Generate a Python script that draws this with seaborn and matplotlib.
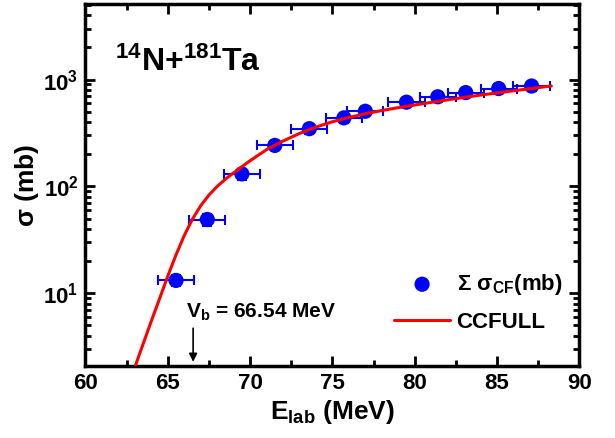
import numpy as np
import pandas as pd
import matplotlib
matplotlib.use("Agg")
import matplotlib.pyplot as plt
import seaborn as sns
from matplotlib.ticker import MultipleLocator, LogLocator, NullFormatter

# Data
e_exp = [65.5, 67.4, 69.5, 71.5, 73.6, 75.7, 77.0, 79.5, 81.4, 83.1, 85.1, 87.1]
sigma_exp = [13.2, 49, 131, 242, 347, 438, 505, 614, 690, 755, 824, 870]
xerr = [1.1, 1.1, 1.1, 1.1, 1.1, 1.1, 1.1, 1.1, 1.1, 1.1, 1.1, 1.1]
yerr = [1.6, 6, 15, 25, 35, 44, 50, 60, 68, 74, 80, 85]

e_calc = [63.0, 63.5, 64.0, 64.5, 65.0, 65.5, 66.0, 66.5, 67.0, 67.5, 68.0, 68.5,
          69.0, 69.5, 70.0, 71.0, 72.0, 73.0, 74.0, 75.0, 76.0, 77.0, 78.0, 79.0,
          80.0, 81.0, 82.0, 83.0, 84.0, 85.0, 86.0, 87.0, 88.3]
sigma_calc = [2.04, 3.35, 5.5, 8.9, 14.5, 22.9, 34.7, 49.5, 66, 83, 100, 117,
              134, 153, 174, 221, 266, 313, 359, 403, 442, 479, 513, 546,
              578, 612, 646, 681, 716, 750, 785, 822, 871]

x_ticks = [60, 65, 70, 75, 80, 85, 90]
vb = 66.54

sns.set_theme(style="ticks")
plt.rcParams['font.family'] = ['Liberation Sans', 'DejaVu Sans']
plt.rcParams['font.weight'] = 'bold'
plt.rcParams['text.color'] = 'black'
plt.rcParams['axes.labelcolor'] = 'black'
plt.rcParams['xtick.color'] = 'black'
plt.rcParams['ytick.color'] = 'black'
plt.rcParams['mathtext.fontset'] = 'custom'
plt.rcParams['mathtext.rm'] = 'Liberation Sans:bold'
plt.rcParams['mathtext.it'] = 'Liberation Sans:bold'
plt.rcParams['mathtext.bf'] = 'Liberation Sans:bold'
plt.rcParams['mathtext.default'] = 'bf'

fig = plt.figure(figsize=(6.15, 4.38), dpi=100)
ax = fig.add_axes([0.139, 0.164, 0.803, 0.827])

df_exp = pd.DataFrame({"E": e_exp, "sigma": sigma_exp})
df_calc = pd.DataFrame({"E": e_calc, "sigma": sigma_calc})

ax.errorbar(e_exp, sigma_exp, xerr=xerr, yerr=yerr, fmt='none', ecolor='#0000FF',
            elinewidth=1.5, capsize=3.5, capthick=1.5, zorder=3)
sns.scatterplot(data=df_exp, x="E", y="sigma", ax=ax, color='#0000FF', s=120,
                edgecolor='none', zorder=4, label=r'$\Sigma\ \sigma_{CF}$(mb)')
sns.lineplot(data=df_calc, x="E", y="sigma", ax=ax, color='#FF0000', linewidth=2.2,
             zorder=5, label='CCFULL')

ax.set_yscale('log')
ax.set_xlim(60, 90)
ax.set_ylim(2.08, 5100)
ax.set_xticks(x_ticks)
ax.xaxis.set_minor_locator(MultipleLocator(2.5))
ax.yaxis.set_major_locator(LogLocator(base=10, numticks=10))
ax.yaxis.set_minor_locator(LogLocator(base=10, subs=np.arange(2, 10), numticks=20))
ax.yaxis.set_minor_formatter(NullFormatter())

ax.tick_params(which='both', direction='in', top=True, right=True, width=2)
ax.tick_params(which='major', length=7, labelsize=16, pad=5)
ax.tick_params(which='minor', length=4)
for lab in ax.get_xticklabels() + ax.get_yticklabels():
    lab.set_fontweight('bold')
for sp in ax.spines.values():
    sp.set_linewidth(2.5)
    sp.set_color('black')

ax.set_xlabel(r'E$_{\mathbf{lab}}$ (MeV)', fontsize=19, fontweight='bold', labelpad=3)
ax.set_ylabel(r'$\sigma$ (mb)', fontsize=19, fontweight='bold', labelpad=2)

ax.text(0.06, 0.84, r'$^{14}$N+$^{181}$Ta', transform=ax.transAxes, fontsize=23,
        fontweight='bold', va='center')

ax.annotate('', xy=(vb, 2.15), xytext=(vb, 5.0),
            arrowprops=dict(arrowstyle='-|>', color='black', lw=1.2, mutation_scale=12))
ax.text(66.1, 6.6, r'V$_{\mathbf{b}}$ = 66.54 MeV', fontsize=15, fontweight='bold',
        va='center')

leg = ax.legend(loc='lower right', bbox_to_anchor=(0.997, 0.05), frameon=False,
                fontsize=16, handlelength=2.5, handletextpad=0.3, labelspacing=0.65,
                borderaxespad=0.3)
for t in leg.get_texts():
    t.set_fontweight('bold')

fig.savefig('out.png', dpi=100)
